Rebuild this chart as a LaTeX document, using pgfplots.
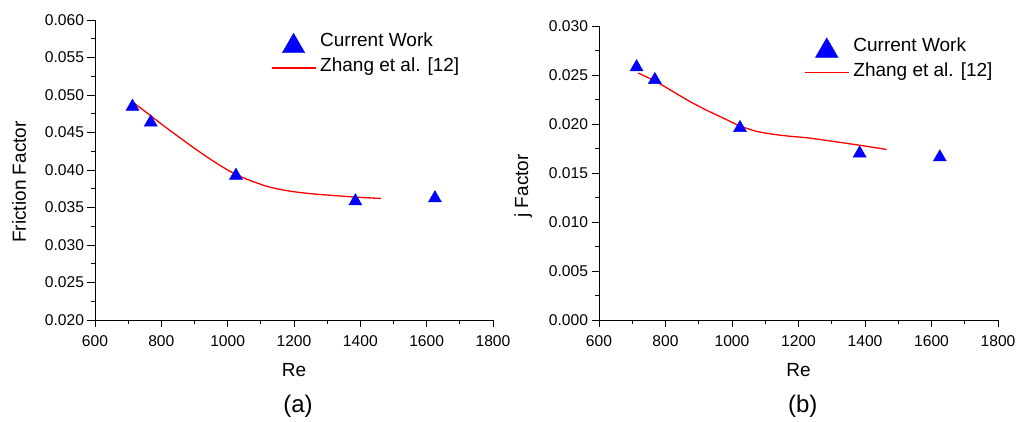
\documentclass[border=0pt]{standalone}
\usepackage{pgfplots}
\pgfplotsset{compat=1.18}
\usepackage{fontspec}
\setmainfont{Liberation Sans}

\definecolor{markblue}{RGB}{0,0,255}
\definecolor{curvered}{RGB}{255,0,0}

\pgfplotsset{
  panel/.style={
    scale only axis,
    axis x line*=bottom, axis y line*=left,
    axis line style={-, line width=0.9pt, black},
    every tick/.style={black, line width=0.8pt},
    tick align=outside,
    major tick length=7.5pt, minor tick length=4pt,
    minor tick num=1,
    xmin=600, xmax=1800,
    xtick={600,800,1000,1200,1400,1600,1800},
    /pgf/number format/assume math mode=true,
    /pgf/number format/1000 sep={},
    tick label style={font=\fontsize{15.6}{18}\selectfont},
    xticklabel style={yshift=-5pt},
    scaled y ticks=false,
    yticklabel style={/pgf/number format/.cd, fixed, fixed zerofill, precision=3},
    label style={font=\fontsize{19}{22}\selectfont},
    clip=false,
    legend cell align=left,
    legend style={draw=none, fill=none, inner sep=0pt, outer sep=0pt,
      row sep=0pt, column sep=4pt,
      font=\fontsize{19}{22}\selectfont,
      nodes={inner sep=0pt, text height=0.716em, text depth=0pt}},
  },
  % Data markers: triangle centred on its bounding box
  datamarks/.style={only marks, mark=triangle*, mark size=7.5pt,
    color=markblue, mark options={yshift=-1.875pt},
    legend image code/.code={
      \path[draw=none, fill=none] (0pt,-12.5pt) rectangle (44pt,12.5pt);
      \draw[##1, mark size=13pt, mark options={yshift=-3.25pt}]
        plot coordinates {(22pt,0pt)};}},
  corrline/.style={no marks, smooth, color=curvered, line width=1.3pt,
    legend image code/.code={
      \path[draw=none, fill=none] (0pt,-12.5pt) rectangle (44pt,12.5pt);
      \draw[##1] (0pt,0pt) -- (44pt,0pt);}},
}

\begin{document}
\begin{tikzpicture}
\useasboundingbox (0pt,0pt) rectangle (1021pt,422pt);

% (a) Friction factor
\begin{axis}[panel,
  at={(95pt,102pt)}, anchor=south west,
  width=398pt, height=300pt,
  ymin=0.020, ymax=0.060,
  ytick={0.020,0.025,0.030,0.035,0.040,0.045,0.050,0.055,0.060},
  xlabel={Re}, ylabel={Friction Factor},
  xlabel style={at={(axis description cs:0.5,-0.1667)}, anchor=center},
  ylabel style={at={(axis description cs:-0.191,0.46)}, anchor=center},
  legend style={at={(axis description cs:0.442,0.965)}, anchor=north west},
]
\addplot[datamarks] coordinates {
  (713,0.0487) (768,0.0466) (1025,0.0395) (1385,0.0361) (1625,0.0365)};
\addlegendentry{Current Work}
\addplot[corrline] coordinates {
  (715,0.0490) (766,0.0473) (810,0.0458) (856,0.0443) (906,0.0427)
  (956,0.0412) (1000,0.0400) (1040,0.0391) (1080,0.0384) (1120,0.0378)
  (1160,0.0374) (1200,0.0371) (1260,0.0368) (1320,0.0366) (1380,0.0364)
  (1463,0.0362)};
\addlegendentry{Zhang et al. [12]}
\node[font=\fontsize{24}{28}\selectfont] at (axis description cs:0.51,-0.289) {(a)};
\end{axis}

% (b) Colburn j factor
\begin{axis}[panel,
  at={(599pt,102pt)}, anchor=south west,
  width=399pt, height=294pt,
  ymin=0.000, ymax=0.030,
  ytick={0.000,0.005,0.010,0.015,0.020,0.025,0.030},
  xlabel={Re}, ylabel={j Factor},
  xlabel style={at={(axis description cs:0.5,-0.17)}, anchor=center},
  ylabel style={at={(axis description cs:-0.19,0.456)}, anchor=center},
  legend style={at={(axis description cs:0.514,0.969)}, anchor=north west},
]
\addplot[datamarks] coordinates {
  (713,0.0260) (768,0.0247) (1024,0.0198) (1384,0.0172) (1625,0.0168)};
\addlegendentry{Current Work}
\addplot[corrline] coordinates {
  (718,0.0252) (773,0.0243) (823,0.0233) (873,0.0223) (924,0.0214)
  (974,0.0206) (1024,0.0198) (1074,0.01925) (1124,0.01895) (1174,0.01875)
  (1224,0.0186) (1274,0.01837) (1324,0.01813) (1394,0.01778) (1465,0.0174)};
\addlegendentry{Zhang et al. [12]}
\node[font=\fontsize{24}{28}\selectfont] at (axis description cs:0.5105,-0.292) {(b)};
\end{axis}
\end{tikzpicture}
\end{document}
